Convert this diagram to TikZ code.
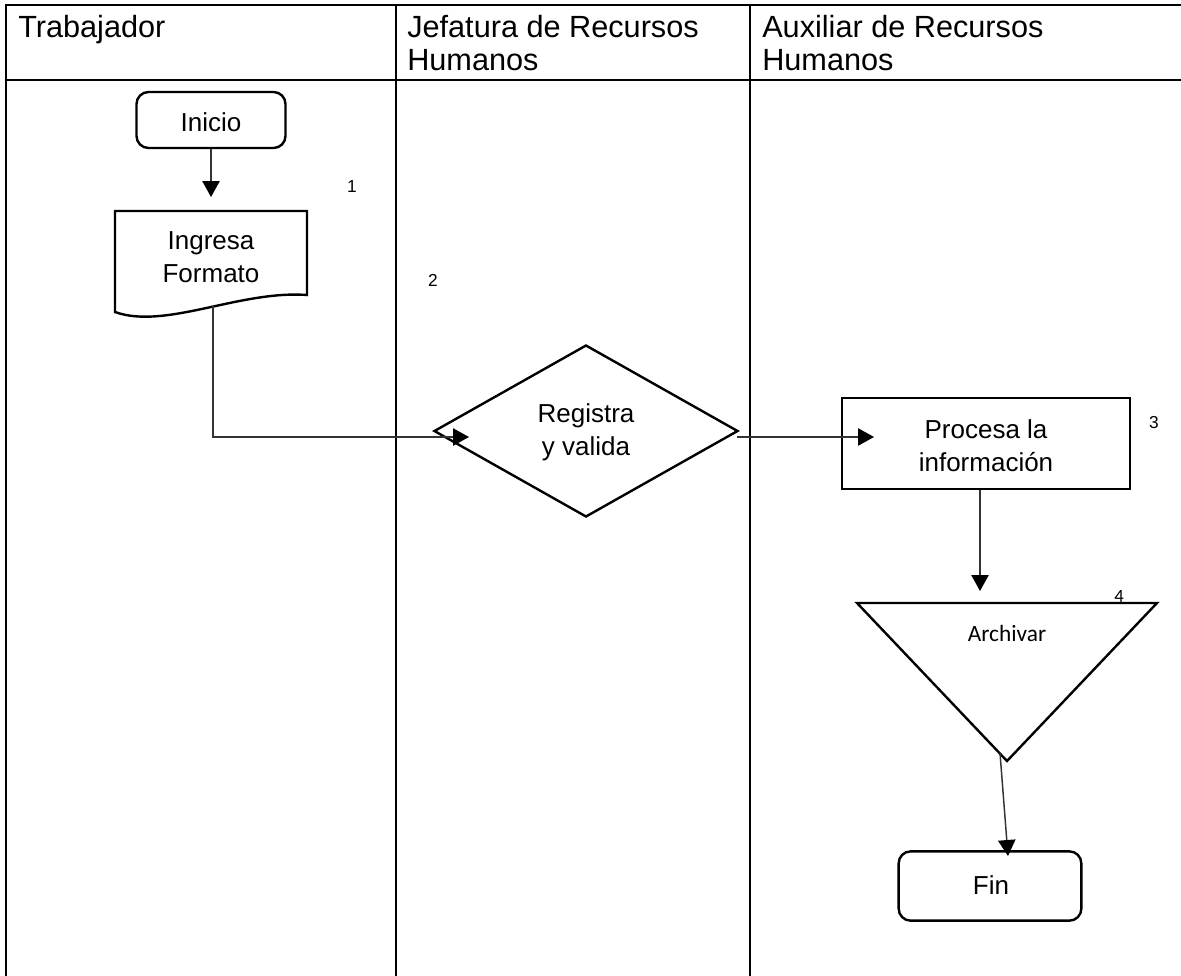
\documentclass[tikz,border=0pt]{standalone}
\usepackage{fontspec}
\setmainfont{Liberation Sans}
\newfontfamily\calibrifont{Carlito}
\usetikzlibrary{arrows.meta,shapes.geometric}
\begin{document}
\begin{tikzpicture}[x=0.75pt,y=-0.75pt,
  grid/.style={line width=2.2pt,line cap=rect},
  outline/.style={line width=1.8pt,line join=miter},
  termbox/.style={draw,line width=1.8pt,rounded corners=9pt,inner sep=0pt},
  procbox/.style={draw,line width=1.8pt,inner sep=0pt},
  decision/.style={draw,line width=1.8pt,diamond,inner sep=0pt},
  lanehead/.style={font=\fontsize{23}{24.5}\selectfont,align=left,anchor=north west,inner sep=0pt},
  bodytext/.style={font=\fontsize{19.5}{25}\selectfont,align=center,inner sep=0pt},
  stepno/.style={font=\fontsize{13}{15}\selectfont,inner sep=0pt},
  flow/.style={line width=1.1pt,draw=black!80,-{Triangle[length=12pt,width=13pt,color=black]}},
  link/.style={line width=1.1pt,draw=black!80}
]
\useasboundingbox (0,0) rectangle (1181,975);

% swimlane table
\draw[grid] (6,5) -- (1181,5);
\draw[grid] (6,80) -- (1181,80);
\draw[grid] (6,5) -- (6,975);
\draw[grid] (396,5) -- (396,975);
\draw[grid] (750,5) -- (750,975);

\node[lanehead] (h1) at (18,15) {Trabajador};
\node[lanehead] (h2) at (407,15) {Jefatura de Recursos\\Humanos};
\node[lanehead] (h3) at (762,15) {Auxiliar de Recursos\\Humanos};

% start
\node[termbox,minimum width=111.75pt,minimum height=42pt] (inicio) at (211,120) {};
\node[bodytext] (tinicio) at (211,122) {Inicio};

% document: Ingresa Formato
\draw[outline] (115,312) -- (115,211) -- (307,211) -- (307,295)
  .. controls (240,290) and (165,330) .. (115,312) -- cycle;
\node[bodytext] (doc) at (211,257) {Ingresa\\Formato};
\coordinate (docout) at (213,306);
\coordinate (docin) at (211,197);
\draw[flow] (inicio.south) -- (docin);

% decision
\node[decision,minimum width=228pt,minimum height=129pt] (dec) at (586,431) {};
\node[bodytext] (tdec) at (586,432) {Registra\\y valida};
\coordinate (decin) at (469,437);
\coordinate (decout) at (737,437);
\draw[flow] (docout) |- (decin);

% process
\node[procbox,minimum width=216pt,minimum height=68pt] (proc) at (986,443.5) {};
\node[bodytext] (tproc) at (986,446) {Procesa la\\información};
\coordinate (procin) at (874,437);
\draw[flow] (decout) -- (procin);

% archive (inverted triangle)
\coordinate (ta) at (857,603);
\coordinate (tb) at (1157,603);
\coordinate (tc) at (1007,761);
\draw[outline] (ta) -- (tb) -- (tc) -- cycle;
\node[font=\calibrifont\fontsize{17.5}{20}\selectfont,inner sep=0pt] (arch) at (1007,633) {Archivar};
\coordinate (archin) at (980,591);
\coordinate (archout) at (1000,753);
\draw[flow] (proc.south -| archin) -- (archin);

% end
\node[termbox,minimum width=137pt,minimum height=52pt] (fin) at (990,886) {};
\node[bodytext] (tfin) at (991,885) {Fin};
\coordinate (finin) at (1008,856);
\draw[flow] (archout) -- (finin);

% step numbers
\node[stepno] (n1) at (352,187) {1};
\node[stepno] (n2) at (433,280) {2};
\node[stepno] (n3) at (1154,423) {3};
\node[stepno,font=\calibrifont\fontsize{14}{16}\selectfont] (n4) at (1119,596) {4};
\end{tikzpicture}
\end{document}
